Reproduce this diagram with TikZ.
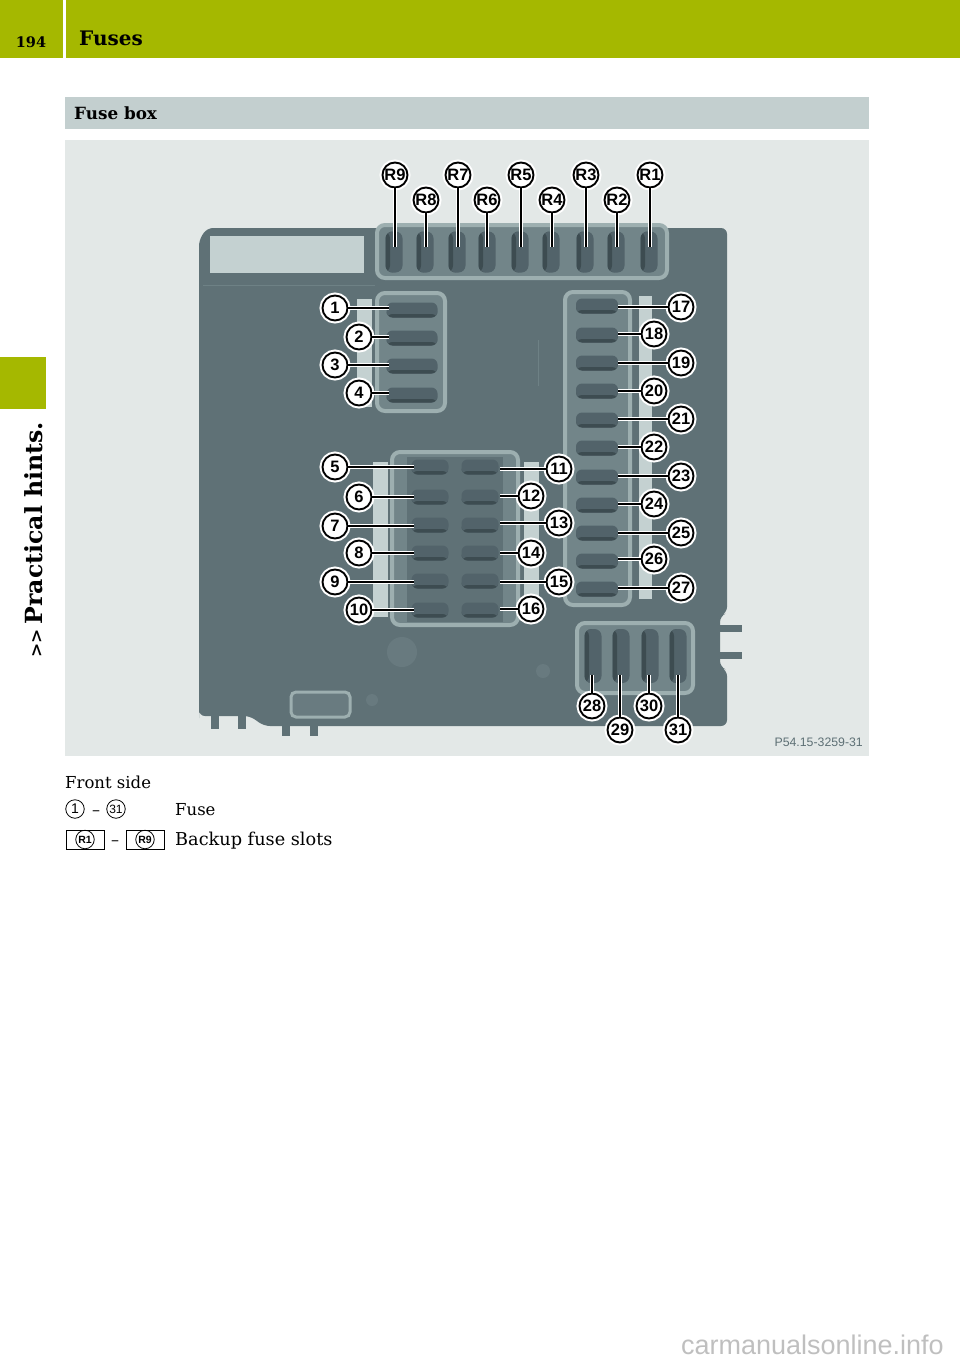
\documentclass[tikz,border=0pt]{standalone}
\usepackage{fontspec}
\setmainfont{DejaVu Serif}
\setsansfont{Liberation Sans}
\usetikzlibrary{positioning}
\definecolor{headgreen}{HTML}{A5B800}
\definecolor{barblue}{HTML}{C3CFCF}
\definecolor{photobg}{HTML}{E3E8E7}
\definecolor{bodygrey}{HTML}{5F7176}
\definecolor{traylight}{HTML}{9DAFB0}
\definecolor{trayinner}{HTML}{728589}
\definecolor{stripgrey}{HTML}{C4D1D1}
\definecolor{fusegrey}{HTML}{52636A}
\definecolor{fusedark}{HTML}{3D4C51}
\definecolor{codegrey}{HTML}{5E7075}
\newcommand{\fsz}[1]{\fontsize{#1}{#1}\selectfont}
\tikzset{
    every node/.style={inner sep=0pt},
    tray/.style={draw=traylight, line width=4pt, fill=trayinner, rounded corners=8pt},
    strip/.style={fill=stripgrey},
    fuseh/.style={minimum height=15pt, rounded corners=6pt, fill=fusegrey,
        path picture={\fill[fusedark] ([yshift=3.5pt]path picture bounding box.south west) rectangle (path picture bounding box.south east);}},
    fusev/.style={minimum width=17pt, rounded corners=7pt, fill=fusegrey,
        path picture={\fill[fusedark] (path picture bounding box.south west) rectangle ([xshift=4.5pt]path picture bounding box.north west);}},
    callout/.style={circle, draw=black, line width=1.9pt, fill=white, minimum size=25pt,
        preaction={draw=white, line width=6pt}, font=\sffamily\bfseries\fsz{16.5}},
    leader/.style={draw=white, double=black, double distance=1.8pt, line width=.9pt, shorten >=-3pt},
    legcirc/.style={circle, draw=black, line width=.8pt, minimum size=18.5pt, font=\sffamily\fsz{14}},
    legbox/.style={draw=black, line width=.6pt, minimum width=38pt, minimum height=19pt},
    bodytext/.style={anchor=base west, font=\fsz{16.5}}
}
\begin{document}
\begin{tikzpicture}[x=1pt, y=-1pt]
    \useasboundingbox (0,0) rectangle (960,1362);
    % page furniture
    \fill[headgreen] (0,0) rectangle (63,58);
    \fill[headgreen] (66,0) rectangle (960,58);
    \fill[headgreen] (0,357) rectangle (46,409);
    \fill[barblue] (65,97) rectangle (869,129);
    \node[anchor=base, font=\bfseries\fsz{14.5}] (pagenum) at (31,48) {194};
    \node[anchor=base west, font=\bfseries\fsz{20}] (headtitle) at (79,46) {Fuses};
    \node[anchor=base west, font=\bfseries\fsz{16.8}] (boxtitle) at (74,120) {Fuse box};
    \node[anchor=base west, rotate=90, font=\bfseries\fsz{23.6}] (sidetitle) at (42,658) {{\fsz{17}>{}>}\hspace{5pt}Practical hints.};
    % fuse box
    \fill[photobg] (65,140) rectangle (869,756);
    \foreach \x/\y/\h in {211/714/15, 238/714/15, 282/724/12, 310/724/12}
        \fill[bodygrey] (\x,\y) rectangle ++(8,\h);
    \fill[bodygrey] (720,625) rectangle (742,632);
    \fill[bodygrey] (720,652) rectangle (742,659);
    \fill[bodygrey, rounded corners=6pt] (199,712) -- (199,240) -- (207,228) -- (727,228) -- (727,613)
        -- (720,616) -- (720,667) -- (727,670) -- (727,726) -- (264,726) -- (250,716) -- (199,716) -- cycle;
    \draw[traylight!25!bodygrey, line width=1pt] (203,285) -- (375,285);
    \draw[traylight!25!bodygrey, line width=1pt] (538,340) -- (538,386);
    \fill[traylight!15!bodygrey] (402,652) circle (15);
    \fill[traylight!15!bodygrey] (372,700) circle (6);
    \fill[traylight!15!bodygrey] (543,671) circle (7);
    \draw[traylight, line width=3pt, fill=trayinner!50!bodygrey, rounded corners=5pt] (291,692) rectangle (350,717);
    \fill[stripgrey] (210,236) rectangle (364,273);
    \draw[tray] (377,225) rectangle (667,278);
    \fill[strip] (357,299) rectangle (372,407);
    \draw[tray] (377,293) rectangle (445,411);
    \fill[strip] (373,462) rectangle (388,617);
    \fill[strip] (524,462) rectangle (539,617);
    \draw[tray] (392,452) rectangle (518,625);
    \fill[fusegrey!60!trayinner] (407,457) rectangle (503,622);
    \fill[strip] (639,296) rectangle (652,599);
    \draw[tray] (565,292) rectangle (630,605);
    \draw[tray] (577,623) rectangle (693,693);
    % fuses
    \foreach \n/\y in {1/310, 2/338, 3/366, 4/395}
        \node[fuseh, minimum width=51pt] (f\n) at (412,\y) {};
    \foreach \n/\y in {5/467, 6/497, 7/525, 8/553, 9/581, 10/610}
        \node[fuseh, minimum width=37pt] (f\n) at (430,\y) {};
    \foreach \n/\y in {11/467, 12/497, 13/525, 14/553, 15/581, 16/610}
        \node[fuseh, minimum width=37pt] (f\n) at (480,\y) {};
    \foreach \n/\y in {17/306, 18/335, 19/363, 20/391, 21/420, 22/448, 23/477, 24/505, 25/533, 26/561, 27/589}
        \node[fuseh, minimum width=42pt] (f\n) at (597,\y) {};
    \foreach \n/\x in {28/593, 29/621, 30/650, 31/678}
        \node[fusev, minimum height=54pt] (f\n) at (\x,656) {};
    \foreach \n/\x in {R9/394, R8/425, R7/457, R6/487, R5/520, R4/551, R3/585, R2/616, R1/649}
        \node[fusev, minimum height=41pt] (f\n) at (\x,252) {};
    % callouts
    \foreach \n/\x in {R9/395, R7/458, R5/521, R3/586, R1/650}
        \node[callout] (c\n) at (\x,175) {\n};
    \foreach \n/\x in {R8/426, R6/487, R4/552, R2/617}
        \node[callout] (c\n) at (\x,200) {\n};
    \foreach \n/\x/\y in {1/335/308, 2/359/337, 3/335/365, 4/359/393, 5/335/467, 6/359/497, 7/335/526, 8/359/553, 9/335/582, 10/359/610}
        \node[callout] (c\n) at (\x,\y) {\n};
    \foreach \n/\x/\y in {11/559/469, 12/531/496, 13/559/523, 14/531/553, 15/559/582, 16/531/609}
        \node[callout] (c\n) at (\x,\y) {\n};
    \foreach \n/\x/\y in {17/681/307, 18/654/334, 19/681/363, 20/654/391, 21/681/419, 22/654/447, 23/681/476, 24/654/504, 25/681/533, 26/654/559, 27/681/588}
        \node[callout] (c\n) at (\x,\y) {\n};
    \foreach \n/\x/\y in {28/592/706, 29/620/730, 30/649/706, 31/678/730}
        \node[callout] (c\n) at (\x,\y) {\n};
    % leaders
    \foreach \n in {1,...,10}
        \draw[leader] (c\n) -- (c\n -| f\n.west);
    \foreach \n in {11,...,16}
        \draw[leader, shorten >=1pt] (c\n) -- (c\n -| f\n.east);
    \foreach \n in {17,...,27}
        \draw[leader, shorten >=0pt] (c\n) -- (c\n -| f\n.east);
    \foreach \n in {R1,R2,R3,R4,R5,R6,R7,R8,R9}
        \draw[leader, shorten >=5pt] (c\n) -- (c\n |- f\n);
    \foreach \n in {28,...,31}
        \draw[leader, shorten >=-8pt] (c\n) -- (c\n |- f\n.south);
    \node[anchor=base east, font=\sffamily\fsz{12.3}, text=codegrey] (photocode) at (863,746) {P54.15-3259-31};
    % legend
    \node[bodytext] (front) at (65,788) {Front side};
    \node[legcirc] (l1) at (75,809) {1};
    \node[anchor=base, font=\fsz{16}] (dasha) at (96,815) {--};
    \node[legcirc, font=\sffamily\fsz{12}] (l31) at (116,809) {31};
    \node[bodytext] (fuse) at (175,815) {Fuse};
    \node[legbox] (b1) at (85,839.5) {};
    \node[legcirc, font=\sffamily\bfseries\fsz{10.5}] (lr1) at (b1) {R1};
    \node[legbox] (b9) at (145,839.5) {};
    \node[legcirc, font=\sffamily\bfseries\fsz{10.5}] (lr9) at (b9) {R9};
    \node[anchor=base, font=\fsz{16}] (dashb) at (115,845) {--};
    \node[bodytext, font=\fsz{17.7}] (backup) at (175,845) {Backup fuse slots};
    \node[anchor=base east, font=\sffamily\fsz{27}, text=black!25] (mark) at (944,1354) {carmanualsonline.info};
\end{tikzpicture}
\end{document}
